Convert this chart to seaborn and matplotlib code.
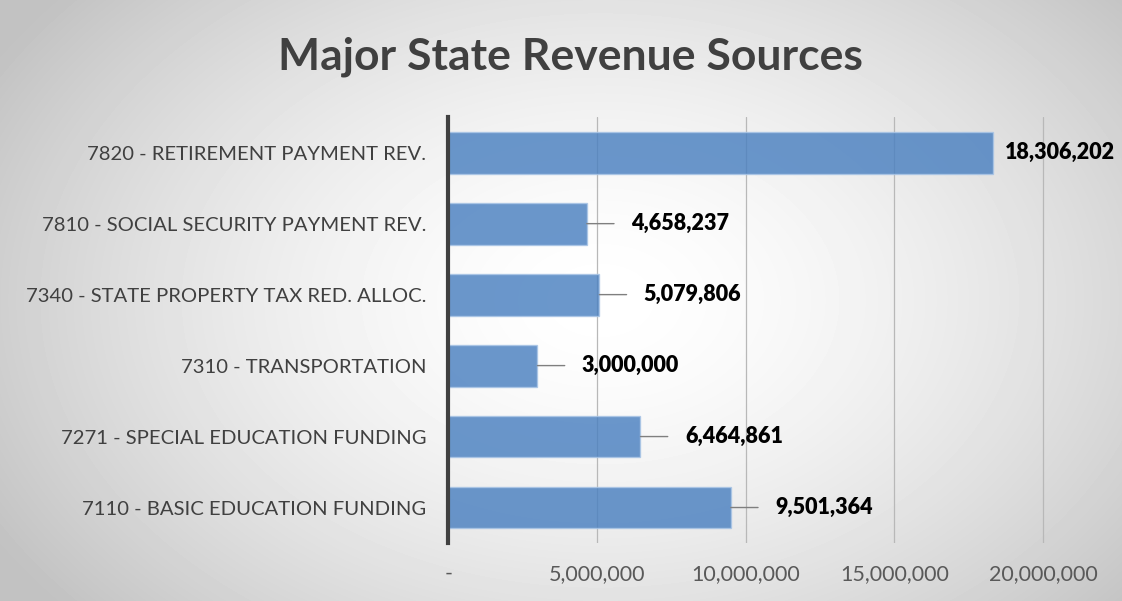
import numpy as np
import pandas as pd
import matplotlib.pyplot as plt
import seaborn as sns

# revenue sources, top to bottom as shown
sources = ["7820 - RETIREMENT PAYMENT REV.",
           "7810 - SOCIAL SECURITY PAYMENT REV.",
           "7340 - STATE PROPERTY TAX RED. ALLOC.",
           "7310 - TRANSPORTATION",
           "7271 - SPECIAL EDUCATION FUNDING",
           "7110 - BASIC EDUCATION FUNDING"]
amounts = [18306202, 4658237, 5079806, 3000000, 6464861, 9501364]
x_ticks = [0, 5000000, 10000000, 15000000, 20000000]
x_tick_labels = ["-", "5,000,000", "10,000,000", "15,000,000", "20,000,000"]

df = pd.DataFrame({"source": sources, "amount": amounts})

sns.set_style("white")
plt.rcParams['font.family'] = ['Lato', 'DejaVu Sans']

fig = plt.figure(figsize=(11.22, 6.01), dpi=100)

# radial gradient background
bg = fig.add_axes([0, 0, 1, 1], zorder=-1)
yy, xx = np.mgrid[0:601, 0:1122]
r = np.sqrt(((xx - 600) / 700.0) ** 2 + ((yy - 300) / 480.0) ** 2)
shade = 1.0 - 0.24 * np.clip(r, 0, 1) ** 1.6
bg.imshow(shade, cmap="gray", vmin=0, vmax=1, aspect="auto")
bg.axis("off")

ax = fig.add_axes([0.3995, 0.0965, 0.6005, 0.7085])
ax.set_facecolor("none")

sns.barplot(data=df, x="amount", y="source", orient="h", ax=ax,
            color="#4a80c0", alpha=0.82, width=0.59,
            edgecolor="#a9c5e6", linewidth=1.0, saturation=1)

ax.set_xlim(0, 22660000)
ax.set_ylim(5.5, -0.5)
ax.set_xticks(x_ticks)
ax.set_xticklabels(x_tick_labels)
ax.set_xlabel("")
ax.set_ylabel("")
ax.grid(axis="x", color="#b8b8b8", linewidth=0.9)
ax.set_axisbelow(True)
for s in ["top", "right", "bottom"]:
    ax.spines[s].set_visible(False)
ax.spines["left"].set_color("#404040")
ax.spines["left"].set_linewidth(3)
ax.tick_params(axis="x", labelsize=15.5, colors="#595959", length=0, pad=15)
ax.tick_params(axis="y", labelsize=14.6, colors="#404040", length=0, pad=16)

# data labels with leader lines
for i, v in enumerate(amounts):
    off = 9 if v > 15000000 else 32
    ax.annotate(f"{v:,}", xy=(v, i), xytext=(off, 0), textcoords="offset points",
                va="center", ha="left", fontsize=15.5, fontweight="heavy",
                color="black", annotation_clip=False,
                arrowprops=dict(arrowstyle="-", color="#7f7f7f", lw=1.0,
                                shrinkA=10, shrinkB=0) if off > 20 else None)

fig.text(0.508, 0.905, "Major State Revenue Sources", ha="center", va="center",
         fontsize=32, fontweight="bold", color="#404040")

fig.savefig("out.png", dpi=100)
